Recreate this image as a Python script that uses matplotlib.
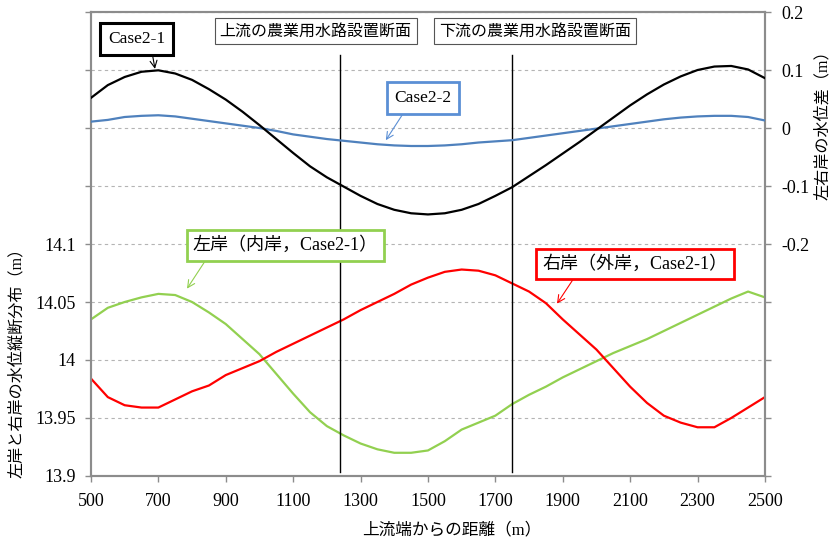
import numpy as np
import matplotlib
matplotlib.use("Agg")
import matplotlib.pyplot as plt

plt.rcParams['font.family'] = ['Liberation Serif', 'Noto Sans CJK JP', 'DejaVu Sans']

# === DATA ===
distance = list(range(500, 2501, 50))

# water level difference (right axis, m)
diff_case21 = [0.052, 0.074, 0.088, 0.097, 0.0995, 0.094, 0.083, 0.067, 0.049, 0.028,
               0.005, -0.019, -0.043, -0.066, -0.085, -0.101, -0.117, -0.131, -0.141, -0.147,
               -0.149, -0.147, -0.141, -0.131, -0.117, -0.102, -0.083, -0.064, -0.044, -0.024,
               -0.003, 0.018, 0.039, 0.058, 0.075, 0.089, 0.100, 0.106, 0.107, 0.101,
               0.086]
diff_case22 = [0.011, 0.014, 0.019, 0.021, 0.022, 0.020, 0.016, 0.012, 0.008, 0.004,
               0.000, -0.005, -0.011, -0.015, -0.019, -0.022, -0.025, -0.028, -0.030, -0.031,
               -0.031, -0.030, -0.028, -0.025, -0.023, -0.021, -0.017, -0.013, -0.009, -0.005,
               -0.001, 0.003, 0.007, 0.011, 0.015, 0.018, 0.020, 0.021, 0.021, 0.019,
               0.013]

# water level profile (left axis, m)
left_bank = [14.035, 14.045, 14.050, 14.054, 14.057, 14.056, 14.050, 14.041, 14.031, 14.018,
             14.005, 13.988, 13.971, 13.955, 13.943, 13.935, 13.928, 13.923, 13.920, 13.920,
             13.922, 13.930, 13.940, 13.946, 13.952, 13.962, 13.970, 13.977, 13.985, 13.992,
             13.999, 14.006, 14.012, 14.018, 14.025, 14.032, 14.039, 14.046, 14.053, 14.059,
             14.054]
right_bank = [13.984, 13.968, 13.961, 13.959, 13.959, 13.966, 13.973, 13.978, 13.987, 13.993,
              13.999, 14.007, 14.014, 14.021, 14.028, 14.035, 14.043, 14.050, 14.057, 14.065,
              14.071, 14.076, 14.078, 14.077, 14.073, 14.066, 14.059, 14.049, 14.035, 14.022,
              14.009, 13.993, 13.977, 13.963, 13.952, 13.946, 13.942, 13.942, 13.950, 13.959,
              13.968]

section_x = [1240, 1750]
section_names = ['上流の農業用水路設置断面', '下流の農業用水路設置断面']

left_ticks = [13.9, 13.95, 14.0, 14.05, 14.1, 14.15, 14.2, 14.25, 14.3]
left_labels = ['13.9', '13.95', '14', '14.05', '14.1', '', '', '', '']
right_ticks = [-0.6, -0.5, -0.4, -0.3, -0.2, -0.1, 0.0, 0.1, 0.2]
right_labels = ['', '', '', '', '-0.2', '-0.1', '0', '0.1', '0.2']
x_ticks = list(range(500, 2501, 200))

# === FIGURE ===
fig = plt.figure(figsize=(8.3, 5.42), dpi=100)
ax = fig.add_axes([0.1096, 0.1218, 0.812, 0.856])
ax2 = ax.twinx()

spine_col = '#8c8c8c'
grid_col = '#b4b4b4'

ax.plot(distance, left_bank, color='#92d050', lw=1.6, zorder=3)
ax.plot(distance, right_bank, color='#ff0000', lw=1.6, zorder=3)
ax2.plot(distance, diff_case22, color='#4f81bd', lw=1.6, zorder=3)
ax2.plot(distance, diff_case21, color='black', lw=1.6, zorder=4)

ax.set_xlim(500, 2500)
ax.set_ylim(13.9, 14.3)
ax2.set_ylim(-0.6, 0.2)
ax.set_xticks(x_ticks)
ax.set_yticks(left_ticks)
ax.set_yticklabels(left_labels)
ax2.set_yticks(right_ticks)
ax2.set_yticklabels(right_labels)

ax.grid(axis='y', color=grid_col, linestyle=(0, (3, 3)), lw=0.8)
ax.set_axisbelow(True)

for a in (ax, ax2):
    for s in a.spines.values():
        s.set_color(spine_col)
        s.set_linewidth(1.5)
ax.tick_params(axis='both', direction='out', length=4, width=1, color=spine_col, labelsize=13)
ax.tick_params(axis='x', pad=8)
ax.tick_params(axis='y', pad=7)
ax2.tick_params(axis='y', direction='out', length=4, width=1, color=spine_col, labelsize=13, pad=8)

# section lines
for sx in section_x:
    ax.plot([sx, sx], [13.9035, 14.263], color='black', lw=1.0, zorder=5)

ax.text(0.3335, 0.9585, section_names[0], transform=ax.transAxes, fontsize=11.5,
        ha='center', va='center', zorder=6,
        bbox=dict(boxstyle='square,pad=0.3', fc='white', ec='#555555', lw=0.8))
ax.text(0.6592, 0.9585, section_names[1], transform=ax.transAxes, fontsize=11.5,
        ha='center', va='center', zorder=6,
        bbox=dict(boxstyle='square,pad=0.3', fc='white', ec='#555555', lw=0.8))

# annotations
def label(axis, text, target, pos, col, lw, rel, fs, pad):
    axis.annotate(text, xy=target, xycoords='data', xytext=pos, textcoords='axes fraction',
                  ha='center', va='center', fontsize=fs, zorder=7,
                  bbox=dict(boxstyle='square,pad=%s' % pad, fc='white', ec=col, lw=lw),
                  arrowprops=dict(arrowstyle='->', color=col, lw=0.8, relpos=rel,
                                  shrinkA=0, shrinkB=0))

label(ax2, 'Case2-1', (690, 0.102), (0.068, 0.942), 'black', 2.2, (0.75, 0), 12.5, 0.45)
label(ax2, 'Case2-2', (1375, -0.021), (0.4926, 0.815), '#5b8fd5', 2.0, (0.24, 0), 12.5, 0.45)
label(ax, '左岸（内岸，Case2-1）', (785, 14.0615), (0.2886, 0.497), '#92d050', 2.0, (0.09, 0), 13, 0.35)
label(ax, '右岸（外岸，Case2-1）', (1883, 14.0486), (0.807, 0.457), '#ff0000', 2.0, (0.19, 0), 13, 0.35)

ax.set_xlabel('上流端からの距離（m）', fontsize=12)
ax.xaxis.set_label_coords(0.536, -0.101)
ax.set_ylabel('左岸と右岸の水位縦断分布（m）', fontsize=11.6)
ax.yaxis.set_label_coords(-0.098, 0.252)
ax2.set_ylabel('左右岸の水位差（m）', fontsize=11.6, rotation=90)
ax2.yaxis.set_label_coords(1.074, 0.764)

fig.savefig('out.png', dpi=100)
